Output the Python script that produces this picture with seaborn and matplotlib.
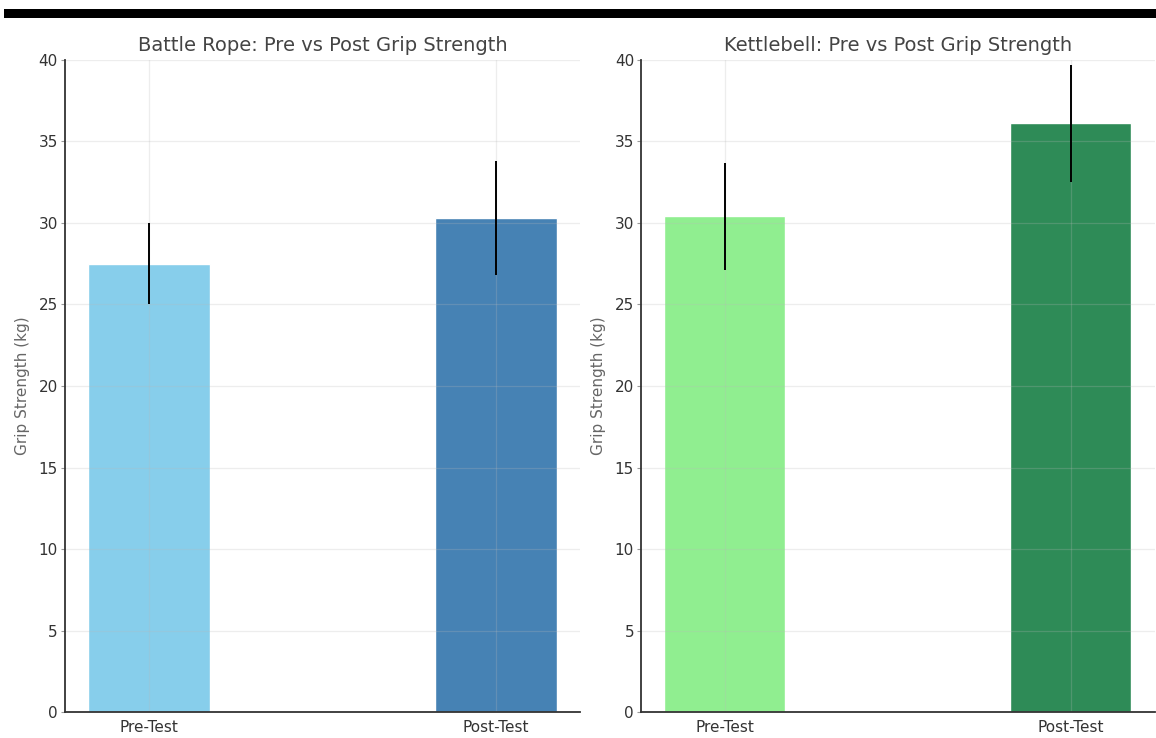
import matplotlib
matplotlib.use("Agg")
import matplotlib.pyplot as plt
from matplotlib.patches import Rectangle
import pandas as pd
import seaborn as sns

# Chart data
phases = ["Pre-Test", "Post-Test"]
rope_means = [27.5, 30.3]
rope_sd = [2.5, 3.5]
kettle_means = [30.4, 36.1]
kettle_sd = [3.3, 3.6]
rope_colors = ["skyblue", "steelblue"]
kettle_colors = ["lightgreen", "seagreen"]
y_ticks = [0, 5, 10, 15, 20, 25, 30, 35, 40]

sns.set_style("whitegrid")
plt.rcParams["font.family"] = ["DejaVu Sans"]


def draw_panel(ax, title, means, sds, colors):
    """Draw one pre/post bar panel with error bars."""
    df = pd.DataFrame({"phase": phases, "strength": means})
    sns.barplot(data=df, x="phase", y="strength", hue="phase", palette=colors,
                width=0.35, saturation=1, legend=False, ax=ax)
    ax.errorbar(range(len(phases)), means, yerr=sds, fmt="none",
                ecolor="black", elinewidth=1.4, capsize=0, zorder=3)

    # Restore default matplotlib category padding
    ax.set_xlim(-0.2425, len(phases) - 1 + 0.2425)
    ax.set_ylim(0, 40)
    ax.set_yticks(y_ticks)

    ax.set_axisbelow("line")
    ax.grid(True, axis="both", color="#b8b8b8", alpha=0.25, linewidth=0.9)

    for side in ["top", "right"]:
        ax.spines[side].set_visible(False)
    for side in ["left", "bottom"]:
        ax.spines[side].set_visible(True)
        ax.spines[side].set_color("#333333")
        ax.spines[side].set_linewidth(1.3)

    ax.tick_params(axis="y", left=True, length=3, width=0.8, color="#999999",
                   labelsize=11, labelcolor="#333333", pad=2)
    ax.tick_params(axis="x", bottom=False, labelsize=11, labelcolor="#333333", pad=2)

    ax.set_title(title, fontsize=14, color="#444444", pad=6)
    ax.set_xlabel("")
    ax.set_ylabel("Grip Strength (kg)", fontsize=11, color="#666666", labelpad=6)


fig = plt.figure(figsize=(11.56, 7.38), dpi=100)
ax1 = fig.add_axes([0.056, 0.035, 0.446, 0.884])
ax2 = fig.add_axes([0.5545, 0.035, 0.4445, 0.884])

draw_panel(ax1, "Battle Rope: Pre vs Post Grip Strength", rope_means, rope_sd, rope_colors)
draw_panel(ax2, "Kettlebell: Pre vs Post Grip Strength", kettle_means, kettle_sd, kettle_colors)

# Black band across the top of the image
fig.add_artist(Rectangle((0.0035, 0.9756), 0.9965, 0.0122,
                         transform=fig.transFigure, color="black", lw=0))

fig.savefig("out.png", dpi=100)
plt.close(fig)
